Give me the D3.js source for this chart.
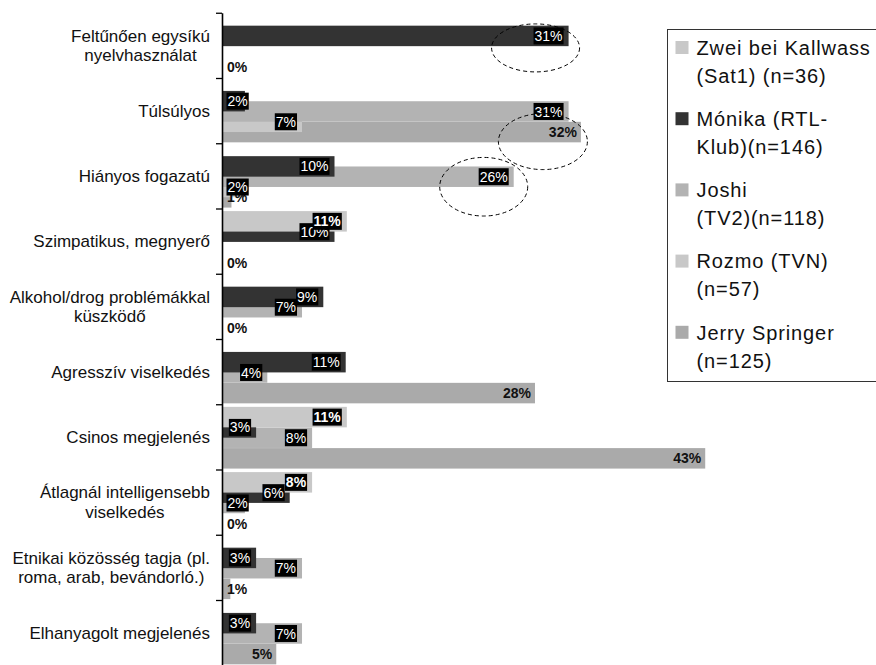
<!DOCTYPE html>
<html>
<head>
<meta charset="utf-8">
<script src="https://cdn.jsdelivr.net/npm/d3@7"></script>
<style>
  html, body { margin: 0; padding: 0; background: #fff; }
  svg { display: block; font-family: "Liberation Sans", Arial, sans-serif; }
</style>
</head>
<body>
<svg id="chart" width="876" height="665"></svg>
<script>
// ---------- DATA ----------
const categories = [
  "Feltűnően egysíkú nyelvhasználat",
  "Túlsúlyos",
  "Hiányos fogazatú",
  "Szimpatikus, megnyerő",
  "Alkohol/drog problémákkal küszködő",
  "Agresszív viselkedés",
  "Csinos megjelenés",
  "Átlagnál intelligensebb viselkedés",
  "Etnikai közösség tagja (pl. roma, arab, bevándorló.)",
  "Elhanyagolt megjelenés"
];
const categoryLines = [
  ["Feltűnően egysíkú", "nyelvhasználat"],
  ["Túlsúlyos"],
  ["Hiányos fogazatú"],
  ["Szimpatikus, megnyerő"],
  ["Alkohol/drog problémákkal", "küszködő"],
  ["Agresszív viselkedés"],
  ["Csinos megjelenés"],
  ["Átlagnál intelligensebb", "viselkedés"],
  ["Etnikai közösség tagja (pl.", "roma, arab, bevándorló.)"],
  ["Elhanyagolt megjelenés"]
];
const seriesNames = ["Zwei bei Kallwass (Sat1) (n=36)", "Mónika (RTL-Klub)(n=146)", "Joshi (TV2)(n=118)", "Rozmo (TVN) (n=57)", "Jerry Springer (n=125)"];
const legendLines = [
  ["Zwei bei Kallwass", "(Sat1) (n=36)"],
  ["Mónika (RTL-", "Klub)(n=146)"],
  ["Joshi", "(TV2)(n=118)"],
  ["Rozmo (TVN)", "(n=57)"],
  ["Jerry Springer", "(n=125)"]
];
// percentages (null = no bar / no label)
const zwei   = [null, null, null, 11.1, null, null, 11.1, 8.0, null, null];
const monika = [30.9, 2.0, 10.0, 10.0, 9.0, 11.0, 3.0, 6.0, 3.0, 3.0];
const joshi  = [null, 30.9, 26.0, null, 7.1, 4.0, 8.0, 2.0, 7.1, 7.1];
const rozmo  = [null, 7.1, 2.0, null, null, null, null, null, null, null];
const jerry  = [0, 32.0, 0.8, 0, 0, 27.9, 43.1, 0, 0.7, 4.8];
const seriesValues = [zwei, monika, joshi, rozmo, jerry];
const seriesColors = ["#c8c8c8", "#333333", "#b3b3b3", "#c8c8c8", "#aaaaaa"];
// label style per series: "box" = white on black box, "plain" = bold dark text
const labelStyle = ["boxBold", "box", "box", "box", "plain"];
// dashed ellipse annotations: [category index, series index]
const annotations = [[0, 1], [1, 4], [2, 2]];

// ---------- LAYOUT ----------
const svg = d3.select("#chart");
const x = d3.scaleLinear().domain([0, 50]).range([222.5, 782.5]);
const y = d3.scaleBand().domain(categories).range([12.75, 665.25]).paddingInner(0).paddingOuter(0);
const bw = y.bandwidth();
const barStart = 0.04, barStep = 0.158, barH = 0.314;
const barY = (ci, si) => y(categories[ci]) + bw * (barStart + si * barStep);
const bh = bw * barH;

// bars: draw last series first so the first series is on top
const drawOrder = [4, 3, 2, 1, 0];
const gBars = svg.append("g");
drawOrder.forEach(si => {
  gBars.selectAll(null)
    .data(seriesValues[si].map((v, ci) => ({v, ci})).filter(d => d.v !== null && d.v > 0))
    .join("rect")
    .attr("x", x(0))
    .attr("y", d => barY(d.ci, si))
    .attr("width", d => x(d.v) - x(0))
    .attr("height", bh)
    .attr("fill", seriesColors[si]);
});

// axis (ticks at band boundaries)
const yIdx = d3.scaleLinear().domain([0, categories.length]).range([12.75, 665.25]);
const axisG = svg.append("g").attr("transform", `translate(${x(0) - 0.5},0)`)
  .call(d3.axisLeft(yIdx).tickValues(d3.range(categories.length + 1)).tickFormat("").tickSize(6).tickSizeOuter(0));
axisG.select(".domain").attr("stroke", "#000").attr("stroke-width", 1.6);
axisG.selectAll(".tick line").attr("stroke", "#000").attr("stroke-width", 1.3);

// data labels
const gLab = svg.append("g");
drawOrder.forEach(si => {
  seriesValues[si].forEach((v, ci) => {
    if (v === null) return;
    const txt = Math.round(v) + "%";
    const cy = barY(ci, si) + bh / 2;
    const end = x(v);
    const st = labelStyle[si];
    if (st === "plain") {
      const t = gLab.append("text").text(txt)
        .attr("font-size", 14).attr("font-weight", "bold").attr("fill", "#111")
        .attr("dy", "0.36em").attr("y", cy);
      const w = t.node().getComputedTextLength();
      let lx = end - 4 - w;
      if (lx < x(0) + 4.5) lx = x(0) + 4.5;
      t.attr("x", lx);
    } else {
      const r = gLab.append("rect").attr("fill", "#000");
      const t = gLab.append("text").text(txt)
        .attr("font-size", 14).attr("font-weight", st === "boxBold" ? "bold" : "normal").attr("fill", "#fff")
        .attr("dy", "0.36em").attr("y", cy);
      const w = t.node().getComputedTextLength();
      const bwid = w + 2;
      let bx = end - 5 - bwid;
      if (bx < x(0) + 4) bx = x(0) + 4;
      r.attr("x", bx).attr("y", cy - 8.5).attr("width", bwid).attr("height", 17);
      t.attr("x", bx + 1);
    }
  });
});

// category labels (wrapped, centered block, right edge near axis)
const gCat = svg.append("g");
categories.forEach((c, ci) => {
  const lines = categoryLines[ci];
  const cy = y(c) + bw / 2;
  const lh = 19.5;
  const texts = lines.map((ln, li) => gCat.append("text").text(ln)
    .attr("font-size", 17).attr("fill", "#111")
    .attr("text-anchor", "middle")
    .attr("y", cy + (li - (lines.length - 1) / 2) * lh).attr("dy", "0.35em"));
  const maxW = d3.max(texts, t => t.node().getComputedTextLength());
  texts.forEach(t => t.attr("x", 210 - maxW / 2));
});

// dashed ellipses
const gAnn = svg.append("g");
const ellOffsets = [[-33, 12, 44, 24], [-38, 9.5, 44.5, 28], [-30, 10, 44, 29.3]];
annotations.forEach(([ci, si], k) => {
  const v = seriesValues[si][ci];
  const o = ellOffsets[k];
  gAnn.append("ellipse")
    .attr("cx", x(v) + o[0]).attr("cy", barY(ci, si) + bh / 2 + o[1])
    .attr("rx", o[2]).attr("ry", o[3])
    .attr("fill", "none").attr("stroke", "#000").attr("stroke-width", 1)
    .attr("stroke-dasharray", "4,3");
});

// legend
const lg = svg.append("g");
lg.append("rect").attr("x", 667.5).attr("y", 29.5).attr("width", 220).attr("height", 352)
  .attr("fill", "#fff").attr("stroke", "#333").attr("stroke-width", 1);
seriesNames.forEach((s, si) => {
  const cy = 47.5 + si * 71.2;
  lg.append("rect").attr("x", 675.5).attr("y", cy - 6.5).attr("width", 13).attr("height", 13)
    .attr("fill", seriesColors[si]);
  legendLines[si].forEach((ln, li) => {
    lg.append("text").text(ln).attr("x", 696.5).attr("y", cy + li * 28).attr("dy", "0.36em")
      .attr("font-size", 20).attr("letter-spacing", 0.9).attr("fill", "#111");
  });
});
</script>
</body>
</html>
